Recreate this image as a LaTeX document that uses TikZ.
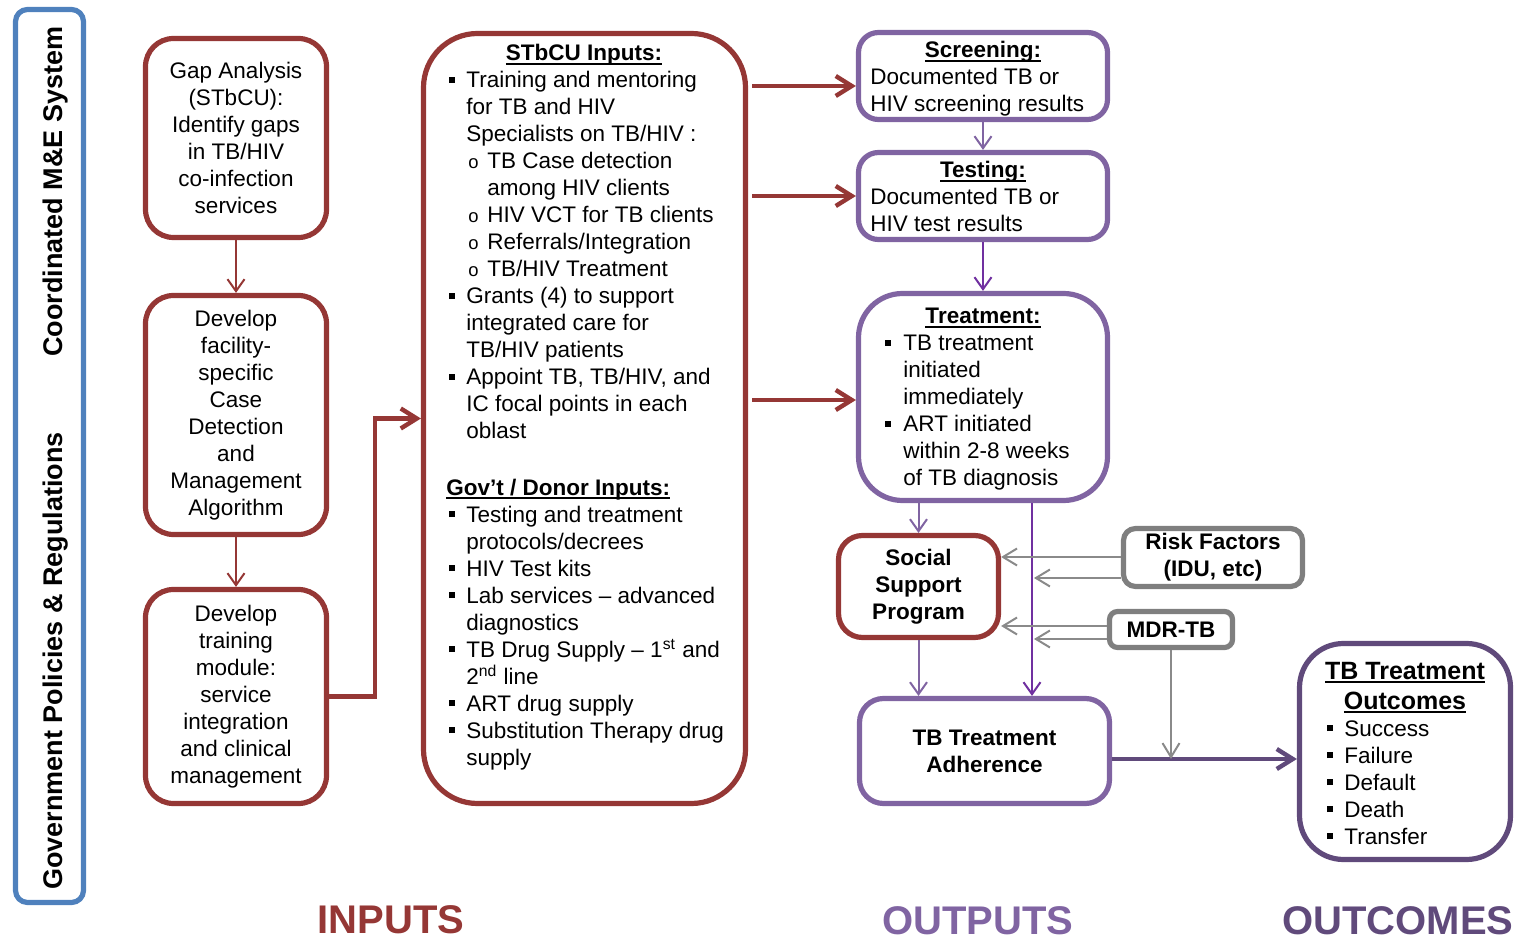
\documentclass[tikz,border=0pt]{standalone}
\usepackage{fontspec}
\setmainfont{Liberation Sans}
\usetikzlibrary{arrows.meta}

\definecolor{inred}{RGB}{149,55,53}
\definecolor{outpurple}{RGB}{128,100,162}
\definecolor{deeppurple}{RGB}{112,48,160}
\definecolor{ocpurple}{RGB}{96,74,123}
\definecolor{factgrey}{RGB}{127,127,127}
\definecolor{arrgrey}{RGB}{138,138,138}
\definecolor{barblue}{RGB}{79,129,189}

% underlined heading with the rule close to the baseline
\newlength\ulwd
\newcommand\ult[1]{\settowidth\ulwd{#1}\rlap{\rule[-2.2pt]{\ulwd}{1pt}}#1}
% square bullets, hanging indents and "o" sub-bullets
\newcommand\bsq{\makebox[8.5pt][l]{\rule[2.5pt]{2.8pt}{2.8pt}}}
\newcommand\tsq{\makebox[9pt][l]{\rule[2.5pt]{2.8pt}{2.8pt}}}
\newcommand\hind{\hspace*{8.5pt}}
\newcommand\tind{\hspace*{9pt}}
\newcommand\osub{\hspace*{9.5pt}\makebox[9.5pt][l]{\fontsize{9.2}{9}\selectfont o}}
\newcommand\oind{\hspace*{19pt}}

\begin{document}
\begin{tikzpicture}[x=0.5pt,y=-0.5pt,
  every node/.style={inner sep=0pt, font=\fontsize{11.25}{13.5}\selectfont},
  bold/.style={font=\fontsize{11.25}{13.5}\selectfont\bfseries},
  redbox/.style={draw=inred, line width=2.6pt, rounded corners=14pt, align=center},
  purplebox/.style={draw=outpurple, line width=2.6pt, rounded corners=10pt, align=center},
  greybox/.style={draw=factgrey, line width=2.6pt, rounded corners=6pt, align=center,
    font=\fontsize{11.25}{13.5}\selectfont\bfseries},
  thickred/.style={draw=inred, line width=2.2pt, -{Straight Barb[length=8pt,width=10pt]}},
  thinred/.style={draw=inred, line width=1pt, -{Straight Barb[length=6pt,width=8.5pt]}},
  thinpurple/.style={draw=#1, line width=1pt, -{Straight Barb[length=6pt,width=8.5pt]}},
  greyarrow/.style={draw=arrgrey, line width=1pt, -{Straight Barb[length=7pt,width=8.5pt]}},
  biglabel/.style={font=\fontsize{20}{24}\selectfont\bfseries, anchor=base}]

\useasboundingbox (0,0) rectangle (1515,940);

% side bar
\node[draw=barblue, line width=2.6pt, rounded corners=6pt,
      minimum width=34pt, minimum height=446.5pt] (sidebar) at (49.5,456) {};
\node[rotate=90, anchor=base, font=\fontsize{13.5}{16}\selectfont\bfseries] (me) at (62,191.5)
  {Coordinated M\&E System};
\node[rotate=90, anchor=base, font=\fontsize{13.5}{16}\selectfont\bfseries] (gov) at (62,661)
  {Government Policies \& Regulations};

% input chain
\node[redbox, minimum width=90.5pt, minimum height=99.5pt] (gap) at (236,138)
  {Gap Analysis\\(STbCU):\\Identify gaps\\in TB/HIV\\co-infection\\services};
\node[redbox, minimum width=90.5pt, minimum height=119.5pt] (dev) at (236,415)
  {Develop\\facility-\\specific\\Case\\Detection\\and\\Management\\Algorithm};
\node[redbox, minimum width=90.5pt, minimum height=107pt] (train) at (236,696.5)
  {Develop\\training\\module:\\service\\integration\\and clinical\\management};

% STbCU and government inputs (multi-line texts are placed by their last baseline)
\node[redbox, rounded corners=27pt, minimum width=161pt, minimum height=385pt] (stbcu) at (584.5,418.5) {};
\node[bold, anchor=base] (stbcut) at (584,61) {\ult{STbCU Inputs:}};
\node[anchor=base west, align=left] (stbcul) at (449,439)
  {\bsq Training and mentoring\\
   \hind for TB and HIV\\
   \hind Specialists on TB/HIV :\\
   \osub TB Case detection\\
   \oind among HIV clients\\
   \osub HIV VCT for TB clients\\
   \osub Referrals/Integration\\
   \osub TB/HIV Treatment\\
   \bsq Grants (4) to support\\
   \hind integrated care for\\
   \hind TB/HIV patients\\
   \bsq Appoint TB, TB/HIV, and\\
   \hind IC focal points in each\\
   \hind oblast};
\node[anchor=base west, align=left] (govl) at (446,765)
  {\bfseries\ult{Gov’t / Donor Inputs:}\\
   \hspace*{1.5pt}\bsq Testing and treatment\\
   \hspace*{1.5pt}\hind protocols/decrees\\
   \hspace*{1.5pt}\bsq HIV Test kits\\
   \hspace*{1.5pt}\bsq Lab services – advanced\\
   \hspace*{1.5pt}\hind diagnostics\\
   \hspace*{1.5pt}\bsq TB Drug Supply – 1\textsuperscript{st} and\\
   \hspace*{1.5pt}\hind 2\textsuperscript{nd} line\\
   \hspace*{1.5pt}\bsq ART drug supply\\
   \hspace*{1.5pt}\bsq Substitution Therapy drug\\
   \hspace*{1.5pt}\hind supply};

% outputs
\node[purplebox, minimum width=124.5pt, minimum height=43.5pt] (scr) at (983,76) {};
\node[bold, anchor=base] (scrt) at (983,58) {\ult{Screening:}};
\node[anchor=base west, align=left] (scrl) at (870,112) {Documented TB or\\HIV screening results};

\node[purplebox, minimum width=124.5pt, minimum height=43.5pt] (tst) at (983,196) {};
\node[bold, anchor=base] (tstt) at (983,178) {\ult{Testing:}};
\node[anchor=base west, align=left] (tstl) at (870,232) {Documented TB or\\HIV test results};

\node[purplebox, rounded corners=22pt, minimum width=124.5pt, minimum height=103.5pt] (trt) at (983,397) {};
\node[bold, anchor=base] (trtt) at (983,324) {\ult{Treatment:}};
\node[anchor=base west, align=left] (trtl) at (885,486)
  {\tsq TB treatment\\
   \tind initiated\\
   \tind immediately\\
   \tsq ART initiated\\
   \tind within 2-8 weeks\\
   \tind of TB diagnosis};

\node[redbox, bold, rounded corners=12pt, minimum width=80pt, minimum height=51pt] (soc) at (918.5,586.5)
  {Social\\Support\\Program};
\node[greybox, minimum width=89.5pt, minimum height=29pt] (risk) at (1213,557.5)
  {Risk Factors\\(IDU, etc)};
\node[greybox, rounded corners=4pt, minimum width=61.5pt, minimum height=18pt] (mdr) at (1171,629.5)
  {MDR-TB};
\node[purplebox, bold, rounded corners=12pt, minimum width=125pt, minimum height=52.5pt] (adh) at (984.5,751)
  {TB Treatment\\Adherence};

% outcomes
\node[draw=ocpurple, line width=2.6pt, rounded corners=22pt,
      minimum width=105.5pt, minimum height=108pt] (oc) at (1405,751.5) {};
\node[anchor=base, align=center, font=\fontsize{12.5}{15}\selectfont\bfseries] (oct) at (1405,709)
  {\ult{TB Treatment}\\\ult{Outcomes}};
\node[anchor=base west, align=left] (ocl) at (1327,844)
  {\bsq Success\\\bsq Failure\\\bsq Default\\\bsq Death\\\bsq Transfer};

% column labels
\node[biglabel, text=inred] (lblin) at (391,933) {INPUTS};
\node[biglabel, text=outpurple] (lblout) at (978,934.5) {OUTPUTS};
\node[biglabel, text=ocpurple] (lbloc) at (1398,934.5) {OUTCOMES};

% connectors
\coordinate (elbow) at (375,0);
\coordinate (vline) at (1032,0);
\coordinate (ocline) at (0,759);

\draw[thinred] (gap.south) -- (dev.north);
\draw[thinred] (dev.south) -- (train.north);
\draw[thickred] (train.east) -| (elbow |- stbcu.west) -- (stbcu.west);

\draw[thickred, shorten <=2pt] (stbcu.east |- 0,86) -- (scr.west |- 0,86);
\draw[thickred, shorten <=2pt] (stbcu.east |- 0,196) -- (tst.west |- 0,196);
\draw[thickred, shorten <=2pt] (stbcu.east |- 0,400) -- (trt.west |- 0,400);

\draw[thinpurple=outpurple] (scr.south) -- (tst.north);
\draw[thinpurple=deeppurple] (tst.south) -- (trt.north);
\draw[thinpurple=outpurple] (trt.south -| soc.north) -- (soc.north);
\draw[thinpurple=outpurple] (soc.south) -- (adh.north -| soc.south);
\draw[thinpurple=deeppurple] (trt.south -| vline) -- (adh.north -| vline);

\draw[greyarrow] (risk.west |- 0,557) -- (soc.east |- 0,557);
\draw[greyarrow, shorten >=1pt] (risk.west |- 0,578) -- (vline |- 0,578);
\draw[greyarrow] (mdr.west |- 0,626) -- (soc.east |- 0,626);
\draw[greyarrow, shorten >=1pt] (mdr.west |- 0,639) -- (vline |- 0,639);

\draw[draw=ocpurple, line width=2.2pt, -{Straight Barb[length=8pt,width=10pt]}]
  (adh.east |- ocline) -- (oc.west |- ocline);
\draw[greyarrow] (mdr.south) -- (mdr.south |- ocline);

\end{tikzpicture}
\end{document}
